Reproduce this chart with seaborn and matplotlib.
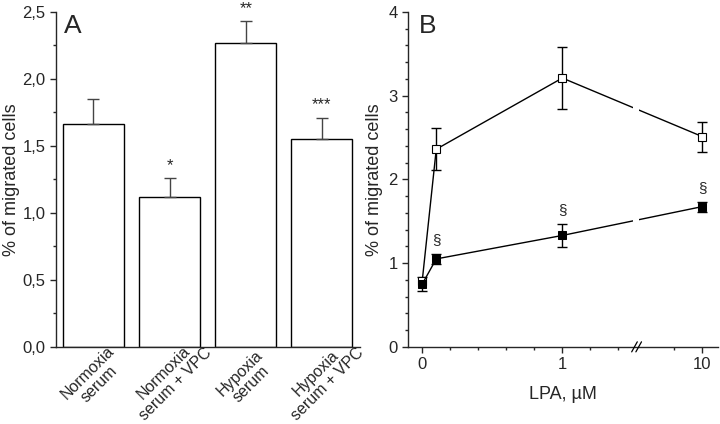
import matplotlib
matplotlib.use("Agg")
import numpy as np
import pandas as pd
import matplotlib.pyplot as plt
import seaborn as sns
from matplotlib.ticker import MultipleLocator, FixedLocator

# Panel A data
groups = ['Normoxia\nserum', 'Normoxia\nserum + VPC', 'Hypoxia\nserum', 'Hypoxia\nserum + VPC']
migrated = [1.66, 1.12, 2.27, 1.55]
migrated_err = [0.19, 0.14, 0.16, 0.16]
stars = ['', '*', '**', '***']

# Panel B data (10 uM drawn after an axis break)
lpa = [0, 0.1, 1, 10]
lpa_pos = [0, 0.1, 1, 2]
lpa_ticks = [0, 1, 2]
lpa_ticklabels = ['0', '1', '10']
hypoxia = [0.79, 2.36, 3.21, 2.51]
hypoxia_err = [0.0, 0.25, 0.375, 0.18]
normoxia = [0.75, 1.05, 1.33, 1.675]
normoxia_err = [0.08, 0.06, 0.14, 0.06]
sect = ['', '§', '§', '§']

sns.set_theme(style='ticks')
plt.rcParams['font.family'] = ['Liberation Sans', 'DejaVu Sans']
plt.rcParams['axes.linewidth'] = 1.0

fig = plt.figure(figsize=(7.2, 4.24), dpi=100)
ax1 = fig.add_axes([0.078, 0.182, 0.422, 0.790])
ax2 = fig.add_axes([0.567, 0.182, 0.430, 0.790])

# ---- A ----
df_a = pd.DataFrame({'group': groups, 'value': migrated})
sns.barplot(data=df_a, x='group', y='value', ax=ax1, color='white',
            edgecolor='black', linewidth=1.0, width=0.8, errorbar=None)
xs = np.arange(len(groups))
ax1.errorbar(xs, migrated, yerr=[np.zeros(4), migrated_err], fmt='none',
             ecolor='#444444', elinewidth=1.0, capsize=4.5, capthick=1.0)
for x, v, e, s in zip(xs, migrated, migrated_err, stars):
    ax1.text(x, v + e + 0.04, s, ha='center', va='bottom', fontsize=12)
ax1.set_xlim(-0.49, 3.5)
ax1.set_ylim(0, 2.5)
ax1.yaxis.set_major_locator(MultipleLocator(0.5))
ax1.yaxis.set_minor_locator(MultipleLocator(0.25))
ax1.set_yticklabels([f'{t:.1f}'.replace('.', ',') for t in ax1.get_yticks()], fontsize=12)
ax1.set_xticks(xs)
ax1.set_xticklabels(groups, rotation=45, ha='center', va='center',
                    rotation_mode='anchor', multialignment='center', fontsize=11.5,
                    linespacing=1.1)
ax1.tick_params(axis='x', length=0, pad=23)
ax1.set_xlabel('')
ax1.set_ylabel('% of migrated cells', fontsize=13, labelpad=2)
ax1.tick_params(axis='y', which='major', length=4, width=1)
ax1.tick_params(axis='y', which='minor', length=2.5, width=1)
ax1.text(0.025, 0.995, 'A', transform=ax1.transAxes, fontsize=19, va='top', ha='left')
sns.despine(ax=ax1)

# ---- B ----
df_b = pd.DataFrame({'pos': lpa_pos * 2,
                     'value': hypoxia + normoxia,
                     'serum': ['hyp'] * 4 + ['norm'] * 4})
hyp_idx = [i for i, e in enumerate(hypoxia_err) if e > 0]
ax2.errorbar([lpa_pos[i] for i in hyp_idx], [hypoxia[i] for i in hyp_idx],
             yerr=[hypoxia_err[i] for i in hyp_idx], fmt='none', ecolor='black',
             elinewidth=1.0, capsize=3.5, zorder=2)
ax2.errorbar(lpa_pos, normoxia, yerr=normoxia_err, fmt='none', ecolor='black',
             elinewidth=1.0, capsize=3.5, zorder=2)
sns.lineplot(data=df_b[df_b.serum == 'hyp'], x='pos', y='value', ax=ax2,
             color='black', linewidth=1.0, marker='s', markersize=6,
             markerfacecolor='white', markeredgecolor='black', markeredgewidth=0.8,
             zorder=3)
sns.lineplot(data=df_b[df_b.serum == 'norm'], x='pos', y='value', ax=ax2,
             color='black', linewidth=1.0, marker='s', markersize=6,
             markerfacecolor='black', markeredgecolor='black', zorder=4)
for x, v, e, s in zip(lpa_pos, normoxia, normoxia_err, sect):
    ax2.text(x, v + e + 0.08, s, ha='center', va='bottom', fontsize=11)
# axis break
ax2.axvspan(1.505, 1.545, ymin=0.01, ymax=1, color='white', zorder=5, lw=0)
for dx in (-0.015, 0.015):
    ax2.plot([1.53 + dx - 0.02, 1.53 + dx + 0.02], [-0.06, 0.06], color='black',
             lw=0.9, clip_on=False, zorder=6)
ax2.set_xlim(-0.1, 2.11)
ax2.set_ylim(0, 4)
ax2.set_xticks(lpa_ticks)
ax2.set_xticklabels(lpa_ticklabels, fontsize=12)
ax2.xaxis.set_minor_locator(FixedLocator([0.2, 0.4, 0.6, 0.8, 1.2, 1.4, 1.8]))
ax2.yaxis.set_major_locator(MultipleLocator(1))
ax2.yaxis.set_minor_locator(MultipleLocator(0.2))
ax2.tick_params(axis='y', labelsize=12)
ax2.tick_params(which='major', length=4, width=1)
ax2.tick_params(which='minor', length=2.5, width=1)
ax2.set_xlabel('LPA, µM', fontsize=13, labelpad=10)
ax2.set_ylabel('% of migrated cells', fontsize=13)
ax2.text(0.035, 0.995, 'B', transform=ax2.transAxes, fontsize=19, va='top', ha='left')
sns.despine(ax=ax2)

fig.savefig('out.png', dpi=100)
